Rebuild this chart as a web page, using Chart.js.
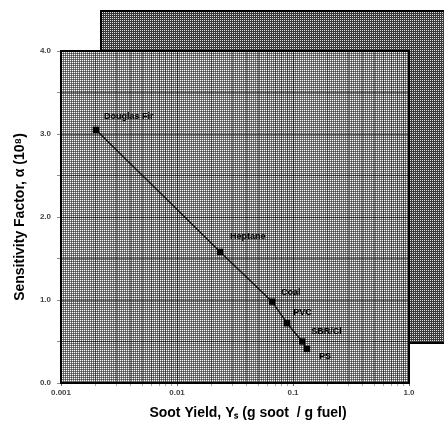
<!DOCTYPE html>
<html>
<head>
<meta charset="utf-8">
<script src="https://cdn.jsdelivr.net/npm/chart.js@4/dist/chart.umd.min.js"></script>
<style>
  html, body { margin: 0; padding: 0; background: #fff; }
  #wrap { width: 444px; height: 421px; }
</style>
</head>
<body>
<div id="wrap"><canvas id="c" width="444" height="421"></canvas></div>
<script>
// ---- data ----
const materials = ['Douglas Fir', 'Heptane', 'Coal', 'PVC', 'SBR/Cl', 'PS'];
const sootYield = [0.002, 0.0235, 0.066, 0.089, 0.120, 0.132];
const sensitivity = [3.05, 1.58, 0.98, 0.72, 0.50, 0.41];
const xTickValues = [0.001, 0.01, 0.1, 1];
const xTickLabels = ['0.001', '0.01', '0.1', '1.0'];
const yTickLabels = ['0.0', '1.0', '2.0', '3.0', '4.0'];
const xTitle = 'Soot Yield, Y\u209B (g soot  / g fuel)';
const yTitle = 'Sensitivity Factor, \u03B1 (10\u2078)';

// label placement (styling, pixels relative to point)
const labelDx = [8, 10, 9, 6, 9, 12];
const labelDy = [-13, -15, -9, -11, -10, 8];

const points = sootYield.map((x, i) => ({ x: x, y: sensitivity[i] }));

function makePattern(ctx, size, draw) {
  const c = document.createElement('canvas');
  c.width = size; c.height = size;
  const g = c.getContext('2d');
  draw(g);
  return ctx.createPattern(c, 'repeat');
}

const panelPlugin = {
  id: 'panels',
  beforeDraw(chart) {
    const ctx = chart.ctx;
    const ca = chart.chartArea;
    const W = chart.width;
    const mainPat = makePattern(ctx, 2, g => {
      g.fillStyle = '#7a7a7a'; g.fillRect(0, 0, 2, 2);
      g.fillStyle = '#4a4a4a'; g.fillRect(1, 1, 1, 1);
      g.fillStyle = '#ffffff'; g.fillRect(0, 0, 1, 1);
    });
    const backPat = makePattern(ctx, 2, g => {
      g.fillStyle = '#3a3a3a'; g.fillRect(0, 0, 2, 2);
      g.fillStyle = '#e0e0e0'; g.fillRect(0, 0, 1, 1);
    });
    ctx.save();
    ctx.fillStyle = '#fff';
    ctx.fillRect(0, 0, W, chart.height);
    // back panel (offset up and right)
    const bx = ca.left + 40, by = ca.top - 40;
    ctx.fillStyle = backPat;
    ctx.fillRect(bx, by, W - bx, ca.height);
    ctx.strokeStyle = '#000';
    ctx.lineWidth = 2;
    ctx.beginPath();
    ctx.moveTo(bx, by + ca.height); ctx.lineTo(bx, by); ctx.lineTo(W, by);
    ctx.moveTo(ca.right, by + ca.height); ctx.lineTo(W, by + ca.height);
    ctx.stroke();
    // main panel
    ctx.fillStyle = mainPat;
    ctx.fillRect(ca.left, ca.top, ca.width, ca.height);
    ctx.restore();
  },
  afterDatasetsDraw(chart) {
    const ctx = chart.ctx;
    const ca = chart.chartArea;
    const xs = chart.scales.x, ys = chart.scales.y;
    ctx.save();
    ctx.font = 'bold 9px "Liberation Sans", Arial, sans-serif';
    ctx.fillStyle = '#000';
    ctx.textAlign = 'left';
    ctx.textBaseline = 'middle';
    materials.forEach((m, i) => {
      const px = xs.getPixelForValue(sootYield[i]);
      const py = ys.getPixelForValue(sensitivity[i]);
      ctx.fillText(m, px + labelDx[i], py + labelDy[i]);
    });
    ctx.strokeStyle = '#000';
    ctx.lineWidth = 2;
    ctx.strokeRect(ca.left, ca.top, ca.width, ca.height);
    ctx.restore();
  },
  afterDraw(chart) {
    const ctx = chart.ctx;
    ctx.save();
    ctx.font = 'bold 14px "Liberation Sans", Arial, sans-serif';
    ctx.fillStyle = '#000';
    ctx.textAlign = 'center';
    ctx.textBaseline = 'middle';
    ctx.fillText(xTitle, 248, 413);
    ctx.restore();
  }
};

new Chart(document.getElementById('c'), {
  type: 'scatter',
  data: {
    datasets: [{
      data: points,
      showLine: true,
      borderColor: '#111',
      borderWidth: 1.4,
      backgroundColor: '#000',
      pointStyle: 'rect',
      pointRadius: 4.5,
      pointBorderWidth: 0,
      pointBackgroundColor: '#000'
    }]
  },
  plugins: [panelPlugin],
  options: {
    responsive: false,
    animation: false,
    devicePixelRatio: 1,
    layout: { padding: { top: 51, right: 35, left: 0, bottom: 0 } },
    plugins: { legend: { display: false }, tooltip: { enabled: false } },
    scales: {
      x: {
        type: 'logarithmic',
        min: 0.001,
        max: 1,
        afterBuildTicks(scale) {
          const t = [];
          for (let d = 0; d < xTickValues.length; d++) {
            const base = xTickValues[d];
            t.push({ value: base, major: true });
            if (d < xTickValues.length - 1) {
              for (let k = 2; k <= 9; k++) t.push({ value: base * k });
            }
          }
          scale.ticks = t;
        },
        afterFit(scale) { scale.height = 38; },
        ticks: {
          autoSkip: false,
          maxRotation: 0,
          padding: 2,
          color: '#444',
          font: { size: 8, weight: 'bold', family: '"Liberation Sans", Arial, sans-serif' },
          callback(value) {
            const idx = xTickValues.findIndex(v => Math.abs(v - value) < v * 1e-6);
            return idx >= 0 ? xTickLabels[idx] : '';
          }
        },
        grid: {
          color(ctx) {
            const v = ctx.tick && ctx.tick.value;
            const major = xTickValues.some(d => Math.abs(d - v) < d * 1e-6);
            return major ? 'rgba(0,0,0,0.6)' : 'rgba(0,0,0,0.35)';
          },
          lineWidth: 1,
          tickLength: 3,
          borderDash: [1, 1]
        },
        border: { display: false },
        title: { display: false }
      },
      y: {
        min: 0,
        max: 4,
        afterFit(scale) { scale.width = 61; },
        ticks: {
          stepSize: 0.5,
          padding: 6,
          color: '#444',
          font: { size: 8, weight: 'bold', family: '"Liberation Sans", Arial, sans-serif' },
          callback(value) {
            return Number.isInteger(value) ? yTickLabels[value] : '';
          }
        },
        grid: {
          color: 'rgba(0,0,0,0.45)',
          lineWidth: 1,
          tickLength: 4,
          borderDash: [1, 1]
        },
        border: { display: false },
        title: {
          display: true,
          text: yTitle,
          color: '#000',
          font: { size: 14, weight: 'bold', family: '"Liberation Sans", Arial, sans-serif' },
          padding: { top: 12, bottom: 0 }
        }
      }
    }
  }
});
</script>
</body>
</html>
